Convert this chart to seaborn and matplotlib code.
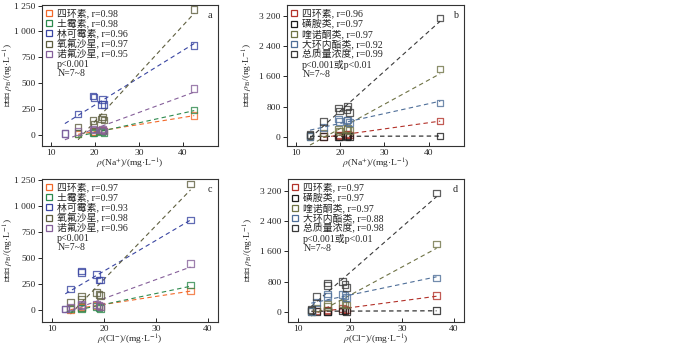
import numpy as np
import pandas as pd
import matplotlib
matplotlib.use("Agg")
import matplotlib.pyplot as plt
from matplotlib.lines import Line2D
import seaborn as sns

sns.set_style("ticks")
plt.rcParams["font.family"] = ["Liberation Serif", "Noto Sans CJK SC"]
plt.rcParams["mathtext.fontset"] = "stix"
plt.rcParams["axes.unicode_minus"] = False

nan = np.nan

# Sample ion concentrations (mg/L)
na_conc = [13.2, 16.2, 19.6, 19.8, 21.7, 21.5, 22.1, 42.6]
cl_conc = [12.5, 13.5, 15.6, 15.6, 18.5, 19.0, 19.3, 36.7]

# Individual antibiotics (ng/L)
compound_names = ["四环素", "土霉素", "林可霉素", "氧氟沙星", "诺氟沙星"]
tetracycline = [nan, 5, 30, 25, 45, 40, 35, 185]
oxytetracycline = [nan, 10, 20, 15, 35, 25, 15, 240]
lincomycin = [12, 200, 375, 360, 340, 290, 290, 865]
ofloxacin = [nan, 75, 135, 100, 170, 150, 140, 1210]
norfloxacin = [10, 30, 55, 45, 55, 45, 35, 445]
compound_r_na = [0.98, 0.98, 0.96, 0.97, 0.95]
compound_r_cl = [0.97, 0.97, 0.93, 0.98, 0.96]
compound_colors = ["#f2692a", "#2e8a4e", "#3a46a2", "#5f5f40", "#86609a"]

# Antibiotic classes and total (ng/L)
class_names = ["四环素", "磺胺类", "喹诺酮类", "大环内酯类", "总质量浓度"]
tetracyclines = [nan, 15, 50, 40, 80, 65, 50, 425]
sulfonamides = [40, 10, 5, 10, 20, 15, 10, 30]
quinolones = [10, 105, 190, 145, 225, 195, 175, 1790]
macrolides = [10, 250, 470, 400, 450, 430, 380, 890]
total = [60, 400, 760, 690, 800, 720, 640, 3140]
class_r_na = [0.96, 0.97, 0.97, 0.92, 0.99]
class_r_cl = [0.97, 0.97, 0.97, 0.88, 0.98]
class_colors = ["#b3322a", "#1c1c1c", "#6f7346", "#4f6f99", "#3a3a3a"]

compound_series = [tetracycline, oxytetracycline, lincomycin, ofloxacin, norfloxacin]
class_series = [tetracyclines, sulfonamides, quinolones, macrolides, total]

ticks_small = [0, 250, 500, 750, 1000, 1250]
labels_small = ["0", "250", "500", "750", "1 000", "1 250"]
ticks_large = [0, 800, 1600, 2400, 3200]
labels_large = ["0", "800", "1 600", "2 400", "3 200"]

fig = plt.figure(figsize=(7.0, 3.46), dpi=100)
ax_a = fig.add_axes([0.060, 0.578, 0.2514, 0.4075])
ax_b = fig.add_axes([0.410, 0.578, 0.2530, 0.4075])
ax_c = fig.add_axes([0.060, 0.0694, 0.2514, 0.4133])
ax_d = fig.add_axes([0.4114, 0.0694, 0.2514, 0.4133])

FS = 6.8


def draw_panel(ax, xvals, series, names, rvals, colors, pnote, letter,
               xlim, ylim, yticks, ylabels, xlabel, ylab_x):
    handles = []
    for vals, name, r, col in zip(series, names, rvals, colors):
        df = pd.DataFrame({"x": xvals, "y": vals})
        sns.regplot(data=df, x="x", y="y", ax=ax, ci=None, marker="s",
                    scatter_kws=dict(s=22, facecolors="none", edgecolors=col,
                                     linewidths=0.9, zorder=3),
                    line_kws=dict(color=col, lw=0.8, ls=(0, (4, 3)), zorder=2))
        handles.append(Line2D([], [], ls="none", marker="s", ms=4.8,
                              mfc="none", mec=col, mew=0.9,
                              label=f"{name}, r={r:.2f}"))
    handles.append(Line2D([], [], ls="none", label=pnote))
    handles.append(Line2D([], [], ls="none", label="N=7~8"))
    ax.legend(handles=handles, loc="upper left", frameon=False,
              fontsize=FS + 0.3, handlelength=0.7, handletextpad=0.45,
              labelspacing=0.02, borderaxespad=0.15, borderpad=0.25)
    ax.set_xlim(*xlim)
    ax.set_ylim(*ylim)
    ax.set_xticks([10, 20, 30, 40])
    ax.set_xticklabels(["10", "20", "30", "40"], fontsize=FS)
    ax.set_yticks(yticks)
    ax.set_yticklabels(ylabels, fontsize=FS)
    ax.tick_params(axis="x", direction="in", length=3, width=0.7, pad=2)
    ax.tick_params(axis="y", direction="out", length=3, width=0.7, pad=1.5)
    for sp in ax.spines.values():
        sp.set_visible(True)
        sp.set_linewidth(0.8)
        sp.set_color("#333333")
    ax.set_xlabel(xlabel, fontsize=FS, labelpad=0)
    ax.set_ylabel("抗生素 $\\rho_{\\mathrm{B}}$/(ng·L$^{-1}$)", fontsize=FS)
    ax.yaxis.set_label_coords(ylab_x, 0.5)
    ax.text(0.965, 0.955, letter, transform=ax.transAxes, ha="right",
            va="top", fontsize=FS + 0.5)


xlab_na = "$\\rho$(Na$^{+}$)/(mg·L$^{-1}$)"
xlab_cl = "$\\rho$(Cl$^{-}$)/(mg·L$^{-1}$)"

draw_panel(ax_a, na_conc, compound_series, compound_names, compound_r_na,
           compound_colors, "p<0.001", "a", (8, 48), (-110, 1255),
           ticks_small, labels_small, xlab_na, -0.15)
draw_panel(ax_b, na_conc, class_series, class_names, class_r_na,
           class_colors, "p<0.001或p<0.01", "b", (8, 48), (-240, 3480),
           ticks_large, labels_large, xlab_na, -0.18)
draw_panel(ax_c, cl_conc, compound_series, compound_names, compound_r_cl,
           compound_colors, "p<0.001", "c", (8, 42), (-115, 1260),
           ticks_small, labels_small, xlab_cl, -0.15)
draw_panel(ax_d, cl_conc, class_series, class_names, class_r_cl,
           class_colors, "p<0.001或p<0.01", "d", (8, 42), (-270, 3510),
           ticks_large, labels_large, xlab_cl, -0.18)

fig.savefig("out.png", dpi=100)
